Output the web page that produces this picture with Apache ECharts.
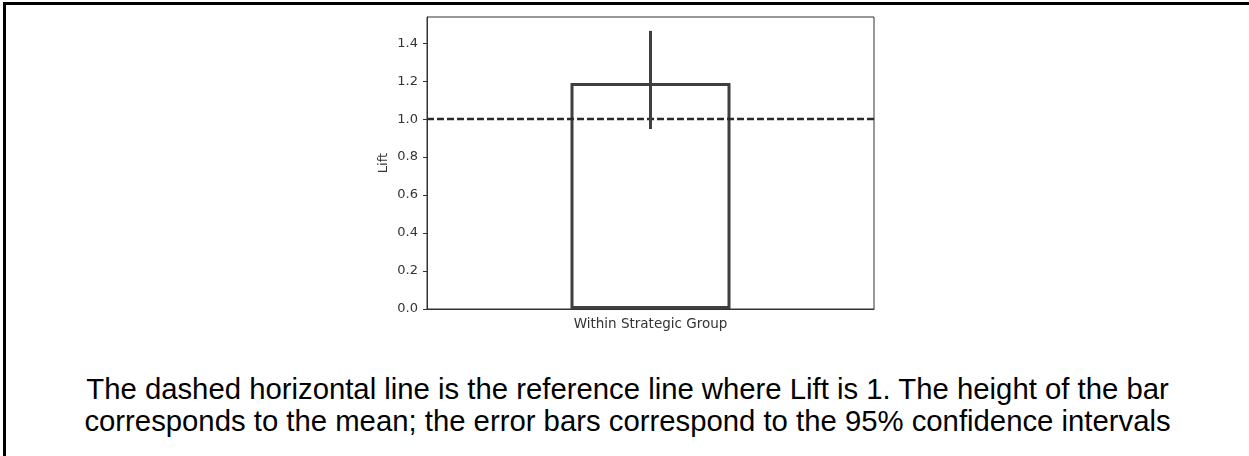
<!DOCTYPE html>
<html>
<head>
    <meta charset="utf-8" />
    <title>Lift</title>
    <style>
        html, body { margin: 0; padding: 0; background: #fff; }
        #frame { position: absolute; left: 3px; top: 2px; width: 1260px; height: 470px;
                 border-top: 3px solid #000; border-left: 3px solid #000; }
        #charts { position: absolute; left: 0; top: 0; width: 1249px; height: 340px; }
        #caption { position: absolute; left: 6px; top: 373px; width: 1243px; text-align: center;
                   font-family: "Liberation Sans", Arial, sans-serif; font-size: 29.3px;
                   line-height: 31.5px; color: #000; }
    </style>
</head>
<body>
    <div id="frame"></div>
    <div id="charts"></div>
    <div id="caption">The dashed horizontal line is the reference line where Lift is 1. The height of the bar<br />corresponds to the mean; the error bars correspond to the 95% confidence intervals</div>
    <script src="https://cdn.jsdelivr.net/npm/echarts@6/dist/echarts.min.js"></script>
    <script type="text/javascript">
        // 数据
        var categories = ['Within Strategic Group'];
        var liftMean = [1.19];
        var ciLow = [0.948];
        var ciHigh = [1.465];
        var yTicks = [0, 0.2, 0.4, 0.6, 0.8, 1.0, 1.2, 1.4];
        var refLine = 1.0;

        var myChart = echarts.init(document.getElementById('charts'));

        var errData = [];
        for (var i = 0; i < categories.length; i++) {
            errData.push([i, ciLow[i], ciHigh[i]]);
        }

        var option = {
            animation: false,
            textStyle: { fontFamily: 'DejaVu Sans' },
            grid: {
                left: 427, top: 17, width: 447, height: 292,
                show: true, borderColor: '#333', borderWidth: 1
            },
            xAxis: {
                type: 'category',
                data: categories,
                axisLine: { lineStyle: { color: '#333', width: 1 } },
                axisTick: { alignWithLabel: true, length: 4, lineStyle: { color: '#333' } },
                axisLabel: { color: '#333', fontSize: 13.5, margin: 8 }
            },
            yAxis: {
                type: 'value',
                min: 0,
                max: 1.538,
                name: 'Lift',
                nameLocation: 'middle',
                nameGap: 37,
                nameTextStyle: { color: '#333', fontSize: 13 },
                splitLine: { show: false },
                axisLine: { show: true, lineStyle: { color: '#333', width: 1 } },
                axisTick: { show: true, length: 4, customValues: yTicks, lineStyle: { color: '#333' } },
                axisLabel: {
                    color: '#333', fontSize: 13, margin: 9, customValues: yTicks,
                    formatter: function (v) { return v.toFixed(1); }
                }
            },
            series: [
                {
                    name: 'Lift',
                    type: 'bar',
                    barWidth: 160,
                    data: liftMean,
                    itemStyle: { color: '#fff', borderColor: '#3f3f3f', borderWidth: 3 },
                    markLine: {
                        silent: true,
                        symbol: 'none',
                        label: { show: false },
                        lineStyle: { color: '#2a2a2a', width: 2.4, type: [7, 3] },
                        data: [{ yAxis: refLine }]
                    }
                },
                {
                    name: 'CI',
                    type: 'custom',
                    data: errData,
                    renderItem: function (params, api) {
                        var lo = api.coord([api.value(0), api.value(1)]);
                        var hi = api.coord([api.value(0), api.value(2)]);
                        return {
                            type: 'line',
                            shape: { x1: lo[0], y1: lo[1], x2: hi[0], y2: hi[1] },
                            style: { stroke: '#3f3f3f', lineWidth: 3 }
                        };
                    },
                    z: 5
                }
            ]
        };
        myChart.setOption(option);
    </script>
</body>
</html>
